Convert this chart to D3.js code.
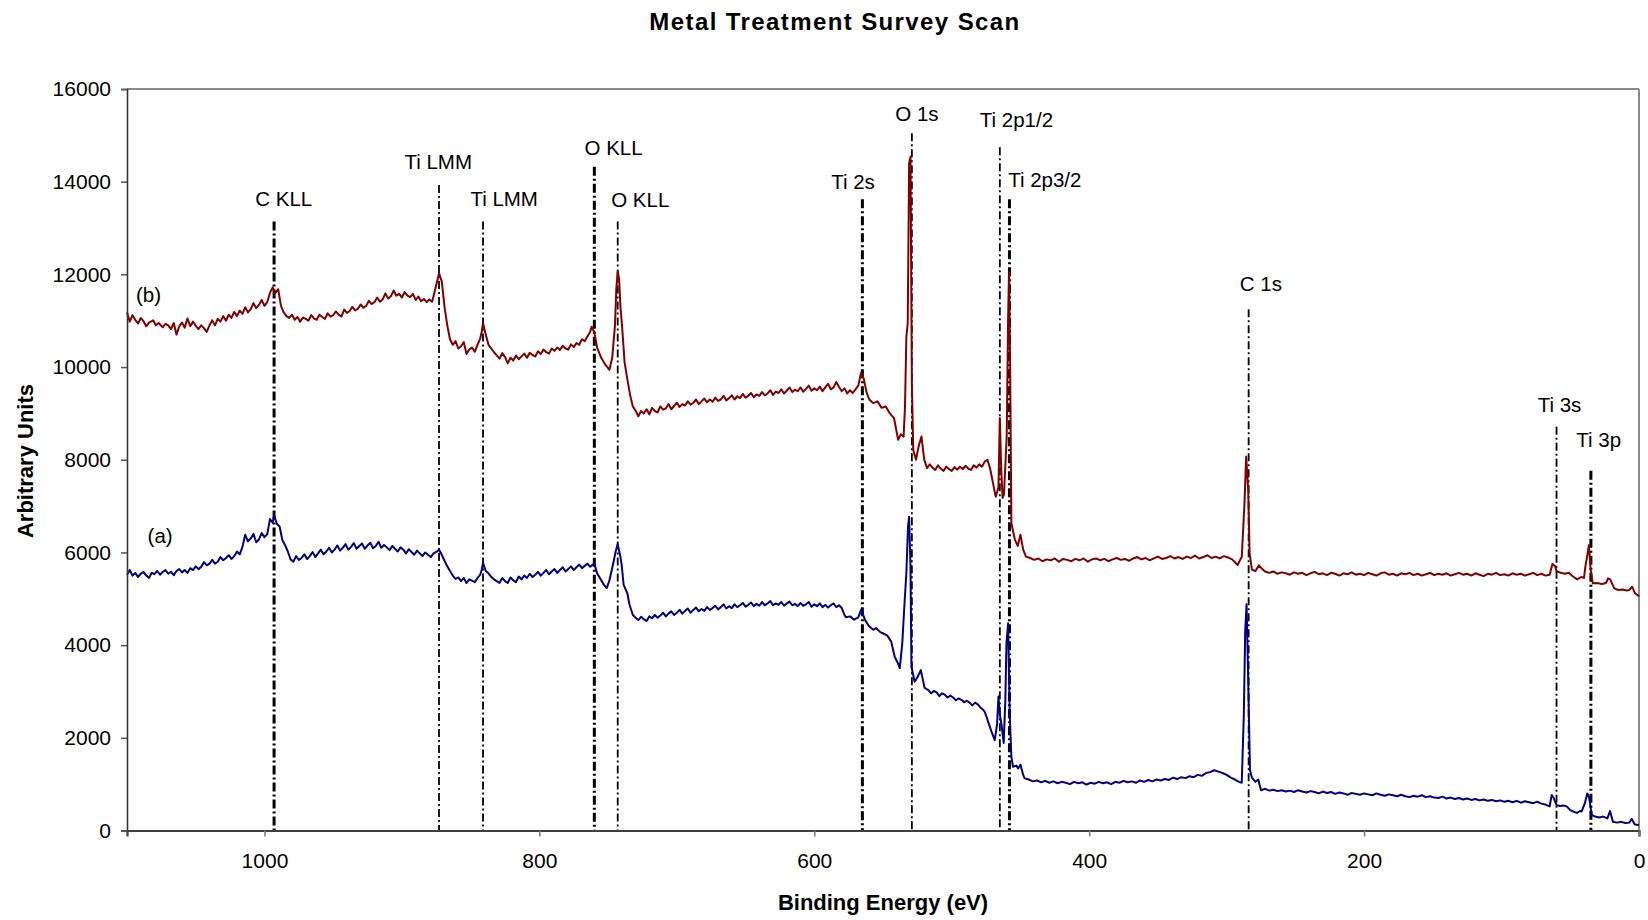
<!DOCTYPE html>
<html>
<head>
<meta charset="utf-8">
<script src="https://cdn.jsdelivr.net/npm/d3@7"></script>
<style>
  html, body { margin: 0; padding: 0; background: #ffffff; }
  svg { display: block; }
  text { font-family: "Liberation Sans", Arial, sans-serif; fill: #000; }
</style>
</head>
<body>
<svg id="chart" width="1648" height="920"></svg>
<script>
// ---------------- DATA ----------------
const chartTitle = "Metal Treatment Survey Scan";
const xAxisTitle = "Binding Energy (eV)";
const yAxisTitle = "Arbitrary Units";
const xTickValues = [1000, 800, 600, 400, 200, 0];
const yTickValues = [0, 2000, 4000, 6000, 8000, 10000, 12000, 14000, 16000];
const xDomain = [1100, 0];
const yDomain = [0, 16000];

// spectrum (b) : [binding energy, counts]
const spectrumB = [
[1100,11180],[1098,10980],[1096,11120],[1094,11020],[1092,10940],[1090,11060],[1088,10990],[1086,10880],
[1084,10960],[1081,11010],[1079,10900],[1077,10950],[1074,10860],[1072,10930],[1070,10900],[1068,10820],
[1066,10950],[1064,10700],[1062,10880],[1060,10960],[1058,10850],[1056,11050],[1054,10880],[1052,10980],
[1050,10890],[1048,10820],[1046,10900],[1044,10840],[1042,10760],[1040,10900],[1038,11010],[1036,10900],
[1034,11040],[1032,10980],[1030,11100],[1028,11000],[1026,11130],[1024,11060],[1022,11190],[1020,11100],
[1018,11220],[1016,11150],[1014,11290],[1012,11180],[1010,11250],[1008,11380],[1006,11270],[1004,11340],
[1002,11450],[1000,11320],[998,11400],[996,11600],[994,11720],[992,11600],[990,11680],[988,11320],
[986,11180],[984,11100],[982,11060],[980,11130],[978,11020],[976,11080],[974,10980],[972,11070],
[970,11040],[968,11000],[966,11120],[964,11050],[962,11020],[960,11130],[958,11080],[956,11040],
[954,11160],[952,11090],[950,11120],[948,11200],[946,11130],[944,11090],[942,11240],[940,11170],
[938,11210],[936,11300],[934,11220],[932,11260],[930,11350],[928,11280],[926,11320],[924,11430],
[922,11360],[920,11400],[918,11500],[916,11410],[914,11460],[912,11590],[910,11480],[908,11530],
[906,11650],[904,11540],[902,11580],[900,11500],[898,11620],[896,11540],[894,11510],[892,11580],
[890,11450],[888,11520],[886,11420],[884,11470],[882,11400],[880,11460],[878,11410],[876,11650],
[874,11900],[873,12020],[871,11850],[869,11300],[867,10900],[865,10600],[863,10480],[861,10560],
[859,10400],[857,10450],[855,10540],[853,10280],[851,10380],[849,10420],[847,10330],[845,10480],
[843,10620],[842,10750],[841,10950],[839,10700],[837,10480],[835,10400],[833,10320],[831,10250],
[829,10180],[827,10300],[825,10220],[823,10080],[821,10200],[819,10140],[817,10250],[815,10170],
[813,10230],[811,10290],[809,10200],[807,10310],[805,10260],[803,10230],[801,10340],[799,10280],
[797,10380],[795,10320],[793,10290],[791,10400],[789,10350],[787,10420],[785,10370],[783,10460],
[781,10400],[779,10380],[777,10490],[775,10430],[773,10520],[771,10480],[769,10600],[767,10560],
[765,10660],[763,10760],[762,10870],[760,10750],[758,10420],[755,10200],[752,10050],[749,9940],
[747,10200],[745,10900],[744,11700],[743,12060],[742,11900],[741,11300],[740,10950],[738,10100],
[736,9740],[734,9400],[732,9150],[730,9060],[728,8940],[726,9050],[724,9000],[722,9090],
[720,8980],[718,9120],[716,9050],[714,9020],[712,9150],[710,9080],[708,9110],[706,9200],
[704,9090],[702,9160],[700,9230],[698,9140],[696,9200],[694,9170],[692,9260],[690,9190],
[688,9230],[686,9300],[684,9200],[682,9260],[680,9320],[678,9240],[676,9300],[674,9250],
[672,9340],[670,9270],[668,9300],[666,9380],[664,9280],[662,9330],[660,9390],[658,9300],
[656,9370],[654,9330],[652,9420],[650,9340],[648,9380],[646,9440],[644,9350],[642,9410],
[640,9380],[638,9460],[636,9390],[634,9430],[632,9500],[630,9400],[628,9470],[626,9440],
[624,9520],[622,9430],[620,9490],[618,9560],[616,9460],[614,9510],[612,9480],[610,9560],
[608,9470],[606,9530],[604,9600],[602,9490],[600,9540],[598,9500],[596,9580],[594,9480],
[592,9560],[590,9640],[588,9520],[586,9560],[584,9680],[582,9570],[580,9480],[578,9540],
[576,9430],[574,9500],[572,9440],[570,9520],[568,9600],[566,9870],[564,9750],[562,9460],
[560,9300],[557,9220],[554,9260],[551,9120],[548,9150],[545,9000],[542,8900],[539,8430],
[537,8550],[535,8500],[534,9150],[533,10660],[532,10950],[531,14400],[530,14540],[529,9650],
[528,8210],[526,8000],[524,8300],[522,8500],[520,8000],[518,7820],[516,7900],[514,7830],
[512,7780],[510,7880],[508,7810],[506,7760],[504,7850],[502,7800],[500,7760],[498,7840],
[496,7790],[494,7850],[492,7800],[490,7870],[488,7810],[486,7780],[484,7880],[482,7830],
[480,7900],[478,7850],[476,7960],[474,8000],[472,7800],[470,7500],[468,7200],[466,7400],
[465,8900],[464,7800],[463,7175],[462,7250],[460,8500],[459,11000],[458.3,12060],[457.5,10000],
[456.6,6630],[454,6270],[452,6140],[450,6380],[448,6060],[446,5910],[443,5880],[440,5840],
[437,5870],[434,5810],[431,5850],[428,5830],[425,5870],[422,5800],[419,5860],[416,5840],
[413,5810],[410,5860],[407,5830],[404,5870],[401,5800],[398,5850],[395,5870],[392,5830],
[389,5860],[386,5810],[383,5850],[380,5880],[377,5840],[374,5860],[371,5820],[368,5870],
[365,5900],[362,5850],[359,5880],[356,5830],[353,5870],[350,5910],[347,5860],[344,5880],
[341,5920],[338,5870],[335,5900],[332,5860],[329,5910],[326,5880],[323,5930],[320,5870],
[317,5900],[314,5940],[311,5880],[308,5910],[305,5870],[302,5920],[299,5890],[296,5850],
[292,5730],[290,5850],[289,5900],[287,7065],[285.8,8070],[284.3,7350],[283.3,5980],[281.6,5630],
[279,5600],[276.6,5720],[274,5640],[272,5590],[269,5560],[266,5590],[263,5540],[260,5570],
[257,5550],[254,5520],[251,5570],[248,5540],[245,5560],[242,5510],[239,5550],[236,5580],
[233,5530],[230,5550],[227,5510],[224,5560],[221,5540],[218,5500],[215,5550],[212,5530],
[209,5570],[206,5520],[203,5540],[200,5510],[197,5560],[194,5530],[191,5500],[188,5550],
[185,5570],[182,5520],[179,5540],[176,5500],[173,5550],[170,5530],[167,5560],[164,5510],
[161,5540],[158,5500],[155,5530],[152,5560],[149,5510],[146,5540],[143,5520],[140,5550],
[137,5500],[134,5530],[131,5560],[128,5520],[125,5540],[122,5500],[119,5550],[116,5520],
[113,5490],[110,5540],[107,5520],[104,5560],[101,5510],[98,5530],[95,5500],[92,5550],
[89,5520],[86,5540],[83,5500],[80,5530],[77,5560],[74,5510],[71,5540],[68,5500],
[65,5520],[63,5750],[61,5700],[60,5600],[57,5560],[54,5540],[51,5560],[48,5480],
[45,5420],[42,5470],[40,5450],[39,5700],[37.8,5900],[36.4,6160],[35.2,5630],[33.6,5335],
[30.5,5340],[27,5320],[24,5340],[22.5,5440],[21,5420],[18,5225],[15,5190],[12,5200],
[9,5180],[7,5190],[5,5260],[3,5120],[1,5080],[0,5050]
];

// spectrum (a) : [binding energy, counts]
const spectrumA = [
[1100,5520],[1098,5620],[1096,5500],[1094,5560],[1092,5470],[1090,5540],[1088,5580],[1086,5500],
[1084,5450],[1082,5560],[1080,5530],[1078,5600],[1076,5520],[1074,5580],[1072,5620],[1070,5540],
[1068,5580],[1066,5510],[1064,5600],[1062,5640],[1060,5570],[1058,5620],[1056,5560],[1054,5660],
[1052,5620],[1050,5700],[1048,5640],[1046,5690],[1044,5790],[1042,5720],[1040,5760],[1038,5840],
[1036,5760],[1034,5800],[1032,5900],[1030,5830],[1028,5880],[1026,5940],[1024,5860],[1022,5920],
[1020,6020],[1018,5960],[1016,6120],[1014,6380],[1012,6240],[1010,6300],[1008,6400],[1006,6220],
[1004,6280],[1002,6420],[1000,6330],[998,6390],[996,6720],[994,6640],[993,6800],[991,6620],
[989,6560],[987,6270],[985,6160],[983,6020],[981,5850],[979,5800],[977,5920],[975,5840],
[973,5880],[971,5960],[969,5860],[967,5920],[965,6010],[963,5900],[961,5980],[959,6060],
[957,5960],[955,6020],[953,6100],[951,6000],[949,6060],[947,6150],[945,6040],[943,6100],
[941,6180],[939,6060],[937,6120],[935,6200],[933,6080],[931,6140],[929,6190],[927,6080],
[925,6150],[923,6210],[921,6090],[919,6140],[917,6230],[915,6100],[913,6160],[911,6110],
[909,6050],[907,6140],[905,6080],[903,6020],[901,6110],[899,6060],[897,5980],[895,6070],
[893,6010],[891,5950],[889,6040],[887,5980],[885,5920],[883,6000],[881,5950],[879,5900],
[877,5980],[875,6010],[873,6060],[871,5950],[869,5820],[867,5700],[865,5600],[863,5500],
[861,5430],[859,5460],[857,5380],[855,5450],[853,5340],[851,5420],[849,5390],[847,5360],
[845,5450],[843,5520],[842,5620],[841,5770],[839,5600],[837,5550],[835,5470],[833,5420],
[831,5380],[829,5340],[827,5450],[825,5380],[823,5340],[821,5460],[819,5400],[817,5360],
[815,5480],[813,5420],[811,5500],[809,5450],[807,5540],[805,5470],[803,5520],[801,5580],
[799,5500],[797,5560],[795,5620],[793,5530],[791,5590],[789,5640],[787,5560],[785,5620],
[783,5680],[781,5590],[779,5640],[777,5700],[775,5620],[773,5680],[771,5740],[769,5660],
[767,5710],[765,5760],[763,5690],[761,5740],[760,5760],[758,5550],[755,5400],[753,5300],
[751,5230],[749,5400],[746,5800],[744.5,6020],[743,6180],[741,5900],[740,5700],[738.7,5300],
[736,5120],[734.4,4870],[732,4650],[730,4590],[728,4540],[726,4610],[724,4560],[722,4520],
[720,4620],[718,4580],[716,4650],[714,4590],[712,4640],[710,4700],[708,4620],[706,4680],
[704,4730],[702,4650],[700,4700],[698,4760],[696,4680],[694,4740],[692,4790],[690,4700],
[688,4760],[686,4810],[684,4730],[682,4780],[680,4740],[678,4820],[676,4760],[674,4800],
[672,4850],[670,4770],[668,4820],[666,4880],[664,4790],[662,4840],[660,4800],[658,4880],
[656,4820],[654,4860],[652,4910],[650,4830],[648,4870],[646,4920],[644,4840],[642,4890],
[640,4850],[638,4930],[636,4860],[634,4900],[632,4950],[630,4860],[628,4900],[626,4870],
[624,4930],[622,4850],[620,4900],[618,4940],[616,4860],[614,4890],[612,4840],[610,4910],
[608,4850],[606,4880],[604,4930],[602,4830],[600,4880],[598,4840],[596,4900],[594,4820],
[592,4870],[590,4810],[588,4860],[586,4900],[584,4820],[582,4860],[580,4800],[578,4650],
[577,4600],[574,4620],[571,4550],[568,4600],[566,4760],[564,4620],[563,4540],[560,4400],
[557,4330],[555,4370],[552,4280],[549,4240],[547,4210],[544,4075],[541.5,3750],[539,3600],
[537.8,3505],[536,4030],[534.2,4975],[533,5555],[531.8,6555],[531,6770],[530,5700],[529.3,3535],
[527,3210],[524.7,3320],[522.5,3460],[519.7,3075],[517,3030],[515,2960],[513,3010],[511,2980],
[509,2900],[507,2960],[505,2930],[503,2870],[501,2910],[499,2870],[497,2810],[495,2850],
[493,2820],[491,2770],[489,2800],[487,2760],[485,2700],[483,2760],[481,2720],[479,2650],
[477,2600],[476,2560],[474.7,2455],[473,2300],[471,2130],[468.7,1950],[467,2300],[466,2890],
[465,2500],[463.8,2290],[462.2,1890],[461,2800],[460.2,4030],[459,4470],[457.8,2500],[456.6,1590],
[455.4,1375],[453,1400],[451.7,1340],[450,1420],[448,1200],[446.9,1125],[444,1100],[441,1060],
[438,1080],[435,1040],[432,1070],[429,1030],[426,1060],[423,1020],[420,1050],[417,1030],
[414,1000],[411,1050],[408,1020],[405,1040],[402,990],[399,1030],[396,1010],[393,1050],
[390,1020],[387,1040],[384,1000],[381,1050],[378,1030],[375,1070],[372,1040],[369,1060],
[366,1030],[363,1080],[360,1050],[357,1090],[354,1060],[351,1100],[348,1080],[345,1110],
[342,1090],[339,1140],[336,1110],[333,1150],[330,1130],[327,1170],[324,1150],[321,1200],
[318,1180],[315,1240],[312,1260],[309,1300],[306,1270],[303,1240],[300,1200],[297,1140],
[294,1100],[291,1050],[289,1030],[287.5,2500],[286.5,4300],[285.5,4880],[284.5,3500],[283,1300],
[281.6,1140],[279,1050],[277,1100],[275,870],[272,900],[269,860],[266,880],[263,850],
[260,870],[257,840],[254,860],[251,830],[248,870],[245,840],[242,820],[239,850],
[236,830],[233,800],[230,840],[227,810],[224,830],[221,790],[218,820],[215,800],
[212,770],[209,810],[206,790],[203,770],[200,800],[197,780],[194,760],[191,800],
[188,770],[185,750],[182,780],[179,760],[176,740],[173,770],[170,740],[167,720],
[164,750],[161,730],[158,760],[155,720],[152,740],[149,710],[146,700],[143,730],
[140,690],[137,710],[134,680],[131,700],[128,670],[125,690],[122,660],[119,680],
[116,650],[113,670],[110,640],[107,660],[104,630],[101,650],[98,620],[95,640],
[92,610],[89,640],[86,600],[83,630],[80,610],[77,590],[74,620],[71,580],
[68,560],[65,520],[63.5,766],[62,700],[60,550],[57.5,530],[55,540],[52.6,520],
[50,440],[47,400],[45,380],[43,420],[41.7,410],[39.3,600],[37.6,800],[36.2,700],
[34.4,335],[32,300],[29,280],[26,300],[23,260],[21.1,420],[20,300],[19,190],
[16,170],[13,190],[10,160],[7,170],[5.3,250],[3,130],[0,120]
];

// peak marker lines
const markerNames  = ["C KLL","Ti LMM","Ti LMM","O KLL","O KLL","Ti 2s","O 1s","Ti 2p1/2","Ti 2p3/2","C 1s","Ti 3s","Ti 3p"];
const markerEnergy = [993, 873, 841, 760, 743, 565, 529, 465, 458, 284, 60, 35];
const markerTop    = [13140, 13930, 13140, 14325, 13140, 13620, 15045, 14743, 13620, 11247, 8714, 7765];
const markerHeavy  = [true, false, false, true, false, true, false, false, true, false, false, true];

// label anchor points (energy, value) for each marker label
const labelEnergy = [986, 873.6, 825.6, 746, 726.6, 571.8, 525.3, 452.9, 432.3, 275.1, 57.8, 29.3];
const labelValue  = [13627, 14432, 13627, 14743, 13606, 14001, 15462, 15332, 14038, 11808, 9182, 8427];

// series tags
const seriesTags   = ["(b)", "(a)"];
const seriesTagE   = [1084.4, 1075.9];
const seriesTagV   = [11556, 6355];

// ---------------- DRAW ----------------
const svg = d3.select("#chart");
svg.append("rect").attr("width",1648).attr("height",920).attr("fill","#ffffff");

const pLeft = 127, pRight = 1639, pTop = 89, pBottom = 830.5;
const x = d3.scaleLinear().domain(xDomain).range([pLeft, pRight]);
const y = d3.scaleLinear().domain(yDomain).range([pBottom, pTop]);

// frame (top & right)
svg.append("line").attr("x1",pLeft).attr("x2",pRight).attr("y1",pTop).attr("y2",pTop)
  .attr("stroke","#8a8a8a").attr("stroke-width",2);
svg.append("line").attr("x1",pRight).attr("x2",pRight).attr("y1",pTop).attr("y2",pBottom)
  .attr("stroke","#8a8a8a").attr("stroke-width",2);

// marker lines
const mk = markerNames.map((n,i)=>({n, e:markerEnergy[i], t:markerTop[i], h:markerHeavy[i], le:labelEnergy[i], lv:labelValue[i]}));
svg.append("g").selectAll("line").data(mk).join("line")
  .attr("x1",d=>x(d.e)).attr("x2",d=>x(d.e))
  .attr("y1",d=>y(d.t)).attr("y2",y(0))
  .attr("stroke","#000")
  .attr("stroke-width",d=>d.h?3:1.8)
  .attr("stroke-dasharray",d=>d.h?"9,3,2,3":"8,3,2,3");

// spectra
const line = d3.line().x(d=>x(d[0])).y(d=>y(d[1]));
svg.append("path").datum(spectrumB).attr("d",line)
  .attr("fill","none").attr("stroke","#800000").attr("stroke-width",2).attr("stroke-linejoin","round");
svg.append("path").datum(spectrumA).attr("d",line)
  .attr("fill","none").attr("stroke","#000080").attr("stroke-width",2).attr("stroke-linejoin","round");

// axes
const yAxis = d3.axisLeft(y).tickValues(yTickValues).tickSize(6).tickPadding(10).tickFormat(d3.format("d"));
const gy = svg.append("g").attr("transform",`translate(${pLeft},0)`).call(yAxis);
gy.select(".domain").attr("stroke","#333").attr("stroke-width",1.6);
gy.selectAll(".tick line").attr("stroke","#555").attr("stroke-width",1.5);
gy.selectAll(".tick text").style("font-size","21px").style("font-family","'Liberation Sans', Arial, sans-serif").attr("fill","#111");

const xAxis = d3.axisBottom(x).tickValues(xTickValues).tickSize(6).tickPadding(17).tickFormat(d3.format("d"));
const gx = svg.append("g").attr("transform",`translate(0,${pBottom})`).call(xAxis);
gx.select(".domain").attr("stroke","#404040").attr("stroke-width",2.2);
gx.selectAll(".tick line").attr("stroke","#777").attr("stroke-width",1.5);
gx.selectAll(".tick text").style("font-size","21px").style("font-family","'Liberation Sans', Arial, sans-serif").attr("fill","#111");

// marker labels
svg.append("g").selectAll("text").data(mk).join("text")
  .attr("x",d=>x(d.le)).attr("y",d=>y(d.lv))
  .attr("text-anchor","middle").attr("dominant-baseline","central")
  .style("font-size","20.5px").text(d=>d.n);

// series tags
svg.append("g").selectAll("text").data(seriesTags).join("text")
  .attr("x",(d,i)=>x(seriesTagE[i])).attr("y",(d,i)=>y(seriesTagV[i]))
  .attr("text-anchor","middle").attr("dominant-baseline","central")
  .style("font-size","20.5px").text(d=>d);

// titles
svg.append("text").attr("x",835).attr("y",30).attr("text-anchor","middle")
  .style("font-size","24px").style("font-weight","bold").style("letter-spacing","1.4px").text(chartTitle);
svg.append("text").attr("x",883).attr("y",910).attr("text-anchor","middle")
  .style("font-size","22px").style("font-weight","bold").text(xAxisTitle);
svg.append("text").attr("transform","translate(33,461) rotate(-90)").attr("text-anchor","middle")
  .style("font-size","22px").style("font-weight","bold").text(yAxisTitle);
</script>
</body>
</html>
